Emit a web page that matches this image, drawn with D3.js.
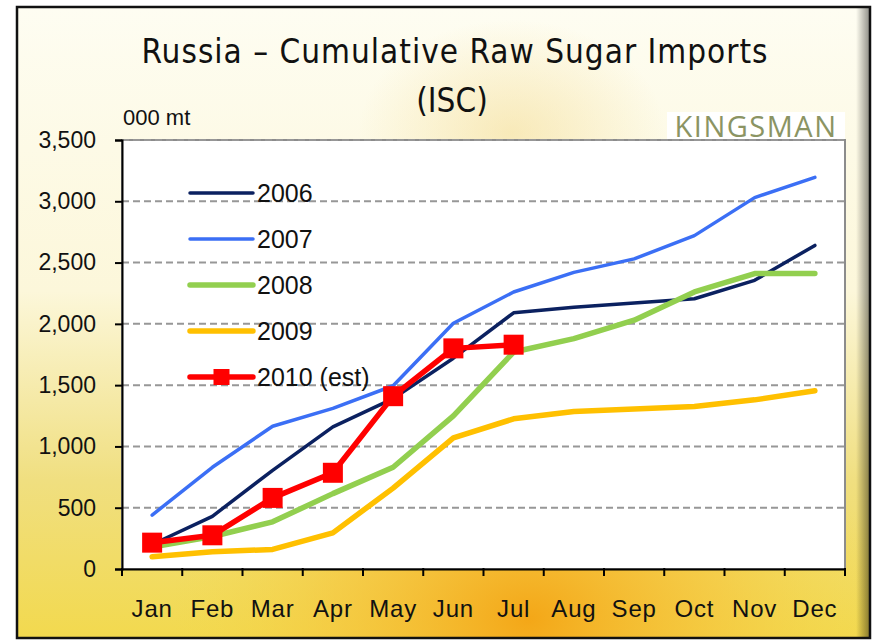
<!DOCTYPE html>
<html>
<head>
<meta charset="utf-8">
<script src="https://cdn.jsdelivr.net/npm/d3@7"></script>
<style>
body { margin: 0; background: #ffffff; }
svg text { font-family: "Liberation Sans", Arial, sans-serif; }
</style>
</head>
<body>
<div id="chart"></div>
<script>
// -- data (000 mt, cumulative)
const months = ["Jan", "Feb", "Mar", "Apr", "May", "Jun", "Jul", "Aug", "Sep", "Oct", "Nov", "Dec"];
const y2006 = [200, 430, 805, 1160, 1390, 1720, 2090, 2135, 2170, 2205, 2355, 2640];
const y2007 = [440, 830, 1165, 1310, 1495, 2005, 2260, 2420, 2530, 2720, 3030, 3195];
const y2008 = [180, 265, 385, 615, 830, 1250, 1770, 1880, 2030, 2260, 2410, 2410];
const y2009 = [100, 140, 160, 295, 660, 1070, 1225, 1285, 1305, 1325, 1380, 1455];
const y2010 = [215, 275, 580, 785, 1410, 1800, 1830];
const yTicks = [0, 500, 1000, 1500, 2000, 2500, 3000, 3500];

const series = [
	{ name: "2006", values: y2006, color: "#0b2160", width: 3.5 },
	{ name: "2007", values: y2007, color: "#3b6ff5", width: 3.5 },
	{ name: "2008", values: y2008, color: "#92cf4f", width: 5.5 },
	{ name: "2009", values: y2009, color: "#ffc000", width: 5.5 },
	{ name: "2010 (est)", values: y2010, color: "#ff0000", width: 5.5, marker: true },
];

const W = 877, H = 640;
const plot = { left: 122, right: 845, top: 140, bottom: 569 };

const svg = d3.select("#chart").append("svg")
	.attr("width", W)
	.attr("height", H);

// -- background
const defs = svg.append("defs");
const bgGrad = defs.append("linearGradient")
	.attr("id", "bg").attr("x1", 0).attr("y1", 0).attr("x2", 0).attr("y2", 1);
bgGrad.append("stop").attr("offset", "0%").attr("stop-color", "#fefdf2");
bgGrad.append("stop").attr("offset", "45%").attr("stop-color", "#fcf7da");
bgGrad.append("stop").attr("offset", "75%").attr("stop-color", "#f0df80");
bgGrad.append("stop").attr("offset", "100%").attr("stop-color", "#f2d94e");

const glow = defs.append("radialGradient")
	.attr("id", "glow").attr("cx", 0.6).attr("cy", 0.97).attr("r", 0.42);
glow.append("stop").attr("offset", "0%").attr("stop-color", "#f4a414").attr("stop-opacity", 0.95);
glow.append("stop").attr("offset", "55%").attr("stop-color", "#f6c43a").attr("stop-opacity", 0.6);
glow.append("stop").attr("offset", "100%").attr("stop-color", "#f6d84a").attr("stop-opacity", 0);

const rays = defs.append("radialGradient")
	.attr("id", "rays").attr("cx", 0.58).attr("cy", 0.2).attr("r", 0.18);
rays.append("stop").attr("offset", "0%").attr("stop-color", "#f3d98a").attr("stop-opacity", 0.5);
rays.append("stop").attr("offset", "100%").attr("stop-color", "#f3d98a").attr("stop-opacity", 0);

const shadow = defs.append("linearGradient")
	.attr("id", "rshadow").attr("x1", 0).attr("x2", 1);
shadow.append("stop").attr("offset", "0%").attr("stop-color", "#000").attr("stop-opacity", 0);
shadow.append("stop").attr("offset", "100%").attr("stop-color", "#000").attr("stop-opacity", 0.45);

svg.append("rect").attr("x", 17).attr("y", 7).attr("width", 853).attr("height", 631)
	.attr("fill", "url(#bg)");
svg.append("rect").attr("x", 17).attr("y", 7).attr("width", 853).attr("height", 631)
	.attr("fill", "url(#glow)");
svg.append("rect").attr("x", 17).attr("y", 7).attr("width", 853).attr("height", 631)
	.attr("fill", "url(#rays)");
svg.append("rect").attr("x", 856).attr("y", 7).attr("width", 14).attr("height", 631)
	.attr("fill", "url(#rshadow)");
svg.append("rect").attr("x", 17).attr("y", 7).attr("width", 853).attr("height", 631)
	.attr("fill", "none").attr("stroke", "#111").attr("stroke-width", 2.5);

// -- titles
svg.append("text")
	.attr("x", 455).attr("y", 63)
	.attr("text-anchor", "middle")
	.style("font-family", "'DejaVu Sans Condensed', 'DejaVu Sans', sans-serif")
	.style("font-size", "33px")
	.style("letter-spacing", "1px")
	.attr("fill", "#111")
	.text("Russia \u2013 Cumulative  Raw Sugar Imports");
svg.append("text")
	.attr("x", 452).attr("y", 112)
	.attr("text-anchor", "middle")
	.style("font-family", "'DejaVu Sans Condensed', 'DejaVu Sans', sans-serif")
	.style("font-size", "33px")
	.attr("fill", "#111")
	.text("(ISC)");

svg.append("text")
	.attr("x", 123).attr("y", 125)
	.style("font-family", "'Liberation Sans Narrow', 'Liberation Sans', sans-serif")
	.style("font-size", "22px")
	.attr("fill", "#111")
	.text("000 mt");

// logo
svg.append("rect").attr("x", 667).attr("y", 112).attr("width", 178).attr("height", 27)
	.attr("fill", "#fff");
svg.append("text")
	.attr("x", 756).attr("y", 137)
	.attr("text-anchor", "middle")
	.style("font-family", "'Open Sans', 'DejaVu Sans', sans-serif")
	.style("font-size", "29px")
	.style("letter-spacing", "1.5px")
	.attr("fill", "#8b9463")
	.text("KINGSMAN");

// -- scales
const x = d3.scaleBand().domain(months).range([plot.left, plot.right]);
const y = d3.scaleLinear().domain([0, 3500]).range([plot.bottom, plot.top]);

// plot area
svg.append("rect")
	.attr("x", plot.left).attr("y", plot.top)
	.attr("width", plot.right - plot.left).attr("height", plot.bottom - plot.top)
	.attr("fill", "#fff")
	.attr("stroke", "#8c8c8c").attr("stroke-width", 2);

// gridlines
svg.append("g")
	.selectAll("line")
	.data(yTicks.filter(d => d > 0))
	.join("line")
	.attr("x1", plot.left).attr("x2", plot.right)
	.attr("y1", d => y(d)).attr("y2", d => y(d))
	.attr("stroke", "#979797")
	.attr("stroke-width", 2)
	.attr("stroke-dasharray", "7,4");

// y axis
const yAxis = svg.append("g")
	.attr("transform", "translate(" + plot.left + ",0)")
	.call(d3.axisLeft(y).tickValues(yTicks).tickFormat(d3.format(",")).tickSize(7).tickPadding(19));
yAxis.select(".domain").attr("stroke", "#000").attr("stroke-width", 2);
yAxis.selectAll(".tick line").attr("stroke", "#000").attr("stroke-width", 2);
yAxis.selectAll("text")
	.style("font-family", "'Liberation Sans', Arial, sans-serif")
	.style("font-size", "23px")
	.attr("fill", "#111");

// x axis
const xAxis = svg.append("g")
	.attr("transform", "translate(0," + plot.bottom + ")")
	.call(d3.axisBottom(x).tickSize(0).tickPadding(31));
xAxis.select(".domain").attr("stroke", "#000").attr("stroke-width", 2);
xAxis.selectAll("text")
	.style("font-family", "'Liberation Sans', Arial, sans-serif")
	.style("font-size", "24px")
	.style("letter-spacing", "0.8px")
	.attr("fill", "#111");
// boundary ticks between categories
xAxis.selectAll(".bound")
	.data(months.concat(["end"]))
	.join("line")
	.attr("class", "bound")
	.attr("x1", (d, i) => i < months.length ? x(d) : x(months[months.length - 1]) + x.bandwidth())
	.attr("x2", (d, i) => i < months.length ? x(d) : x(months[months.length - 1]) + x.bandwidth())
	.attr("y1", -1).attr("y2", 7)
	.attr("stroke", "#000").attr("stroke-width", 2);

// -- lines
const cx = i => x(months[i]) + x.bandwidth() / 2;
const line = d3.line()
	.x((d, i) => cx(i))
	.y(d => y(d));

svg.append("g")
	.selectAll("path")
	.data(series)
	.join("path")
	.attr("fill", "none")
	.attr("stroke", d => d.color)
	.attr("stroke-width", d => d.width)
	.attr("stroke-linejoin", "round")
	.attr("stroke-linecap", "round")
	.attr("d", d => line(d.values));

const sq = 20;
svg.append("g")
	.selectAll("rect")
	.data(y2010)
	.join("rect")
	.attr("x", (d, i) => cx(i) - sq / 2)
	.attr("y", d => y(d) - sq / 2)
	.attr("width", sq).attr("height", sq)
	.attr("fill", "#ff0000");

// -- legend
const legend = svg.append("g")
	.selectAll("g")
	.data(series)
	.join("g")
	.attr("transform", (d, i) => "translate(190," + (193 + i * 46) + ")");
legend.append("line")
	.attr("x1", 0).attr("x2", 63)
	.attr("stroke", d => d.color)
	.attr("stroke-width", d => d.width)
	.attr("stroke-linecap", "round");
legend.filter(d => d.marker)
	.append("rect")
	.attr("x", 31.5 - 8).attr("y", -8).attr("width", 16).attr("height", 16)
	.attr("fill", "#ff0000");
legend.append("text")
	.attr("x", 67).attr("y", 9)
	.style("font-family", "'Liberation Sans', Arial, sans-serif")
	.style("font-size", "25px")
	.attr("fill", "#111")
	.text(d => d.name);
</script>
</body>
</html>
